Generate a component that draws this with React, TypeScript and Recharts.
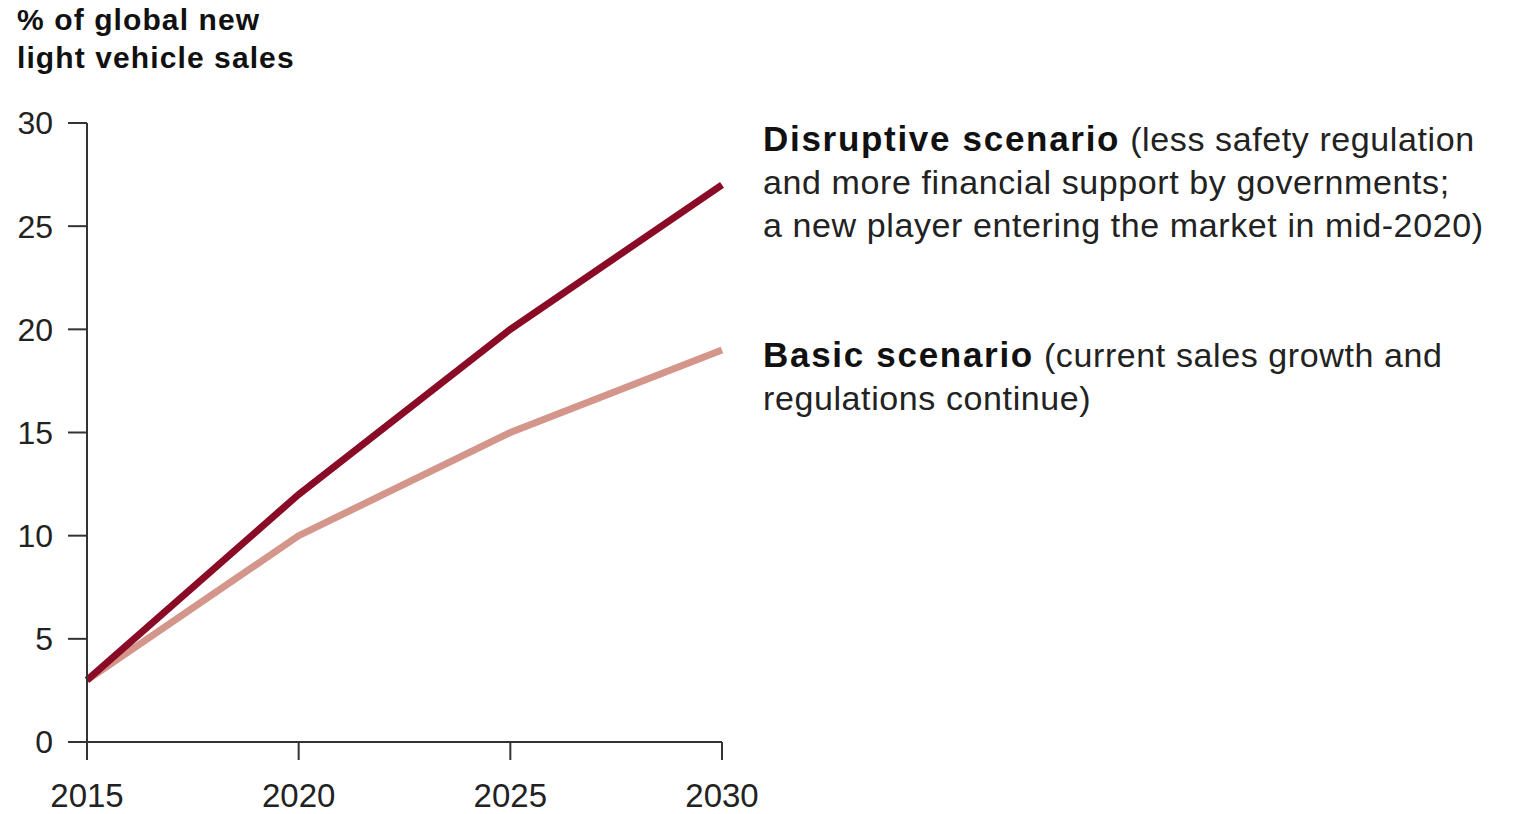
import { LineChart, Line, XAxis, YAxis } from "recharts"

const years = [2015, 2020, 2025, 2030]
const disruptive = [3, 12, 20, 27]
const basic = [3, 10, 15, 19]
const yTicks = [0, 5, 10, 15, 20, 25, 30]

const rows = years.map((year, i) => ({ year, disruptive: disruptive[i], basic: basic[i] }))

const font = '"Liberation Sans", Arial, Helvetica, sans-serif'
const axisColor = "#333"
const boldStyle = { color: "#111", fontSize: 35, letterSpacing: 1.7 }

export default function App() {
  return (
    <div style={{ position: "absolute", left: 0, top: 0, width: 1514, height: 814, background: "#fff", fontFamily: font }}>
      <div style={{ position: "absolute", left: 17, top: 1, fontSize: 30, fontWeight: 700, lineHeight: "38px", letterSpacing: 1.1, color: "#111" }}>
        % of global new
        <br />
        light vehicle sales
      </div>
      <LineChart width={1514} height={814} data={rows} margin={{ top: 123, right: 792, bottom: 0, left: 0 }}>
        <XAxis
          dataKey="year"
          type="number"
          domain={[2015, 2030]}
          ticks={years}
          height={72}
          stroke={axisColor}
          strokeWidth={2}
          tickSize={18}
          tickMargin={24}
          tick={{ fill: "#222", fontSize: 33, fontFamily: font }}
        />
        <YAxis
          type="number"
          domain={[0, 30]}
          ticks={yTicks}
          width={87}
          stroke={axisColor}
          strokeWidth={2}
          tickSize={19}
          tickMargin={15}
          tick={{ fill: "#222", fontSize: 32, fontFamily: font }}
        />
        <Line dataKey="basic" stroke="#d4958b" strokeWidth={7} dot={false} isAnimationActive={false} />
        <Line dataKey="disruptive" stroke="#8a0b25" strokeWidth={7} dot={false} isAnimationActive={false} />
      </LineChart>
      <div style={{ position: "absolute", left: 763, top: 117, fontSize: 34, lineHeight: "43px", letterSpacing: 0.6, color: "#222", whiteSpace: "nowrap" }}>
        <b style={boldStyle}>Disruptive scenario</b> (less safety regulation
        <br />
        and more financial support by governments;
        <br />a new player entering the market in mid-2020)
      </div>
      <div style={{ position: "absolute", left: 763, top: 333, fontSize: 34, lineHeight: "43px", letterSpacing: 0.6, color: "#222", whiteSpace: "nowrap" }}>
        <b style={boldStyle}>Basic scenario</b> (current sales growth and
        <br />
        regulations continue)
      </div>
    </div>
  )
}
